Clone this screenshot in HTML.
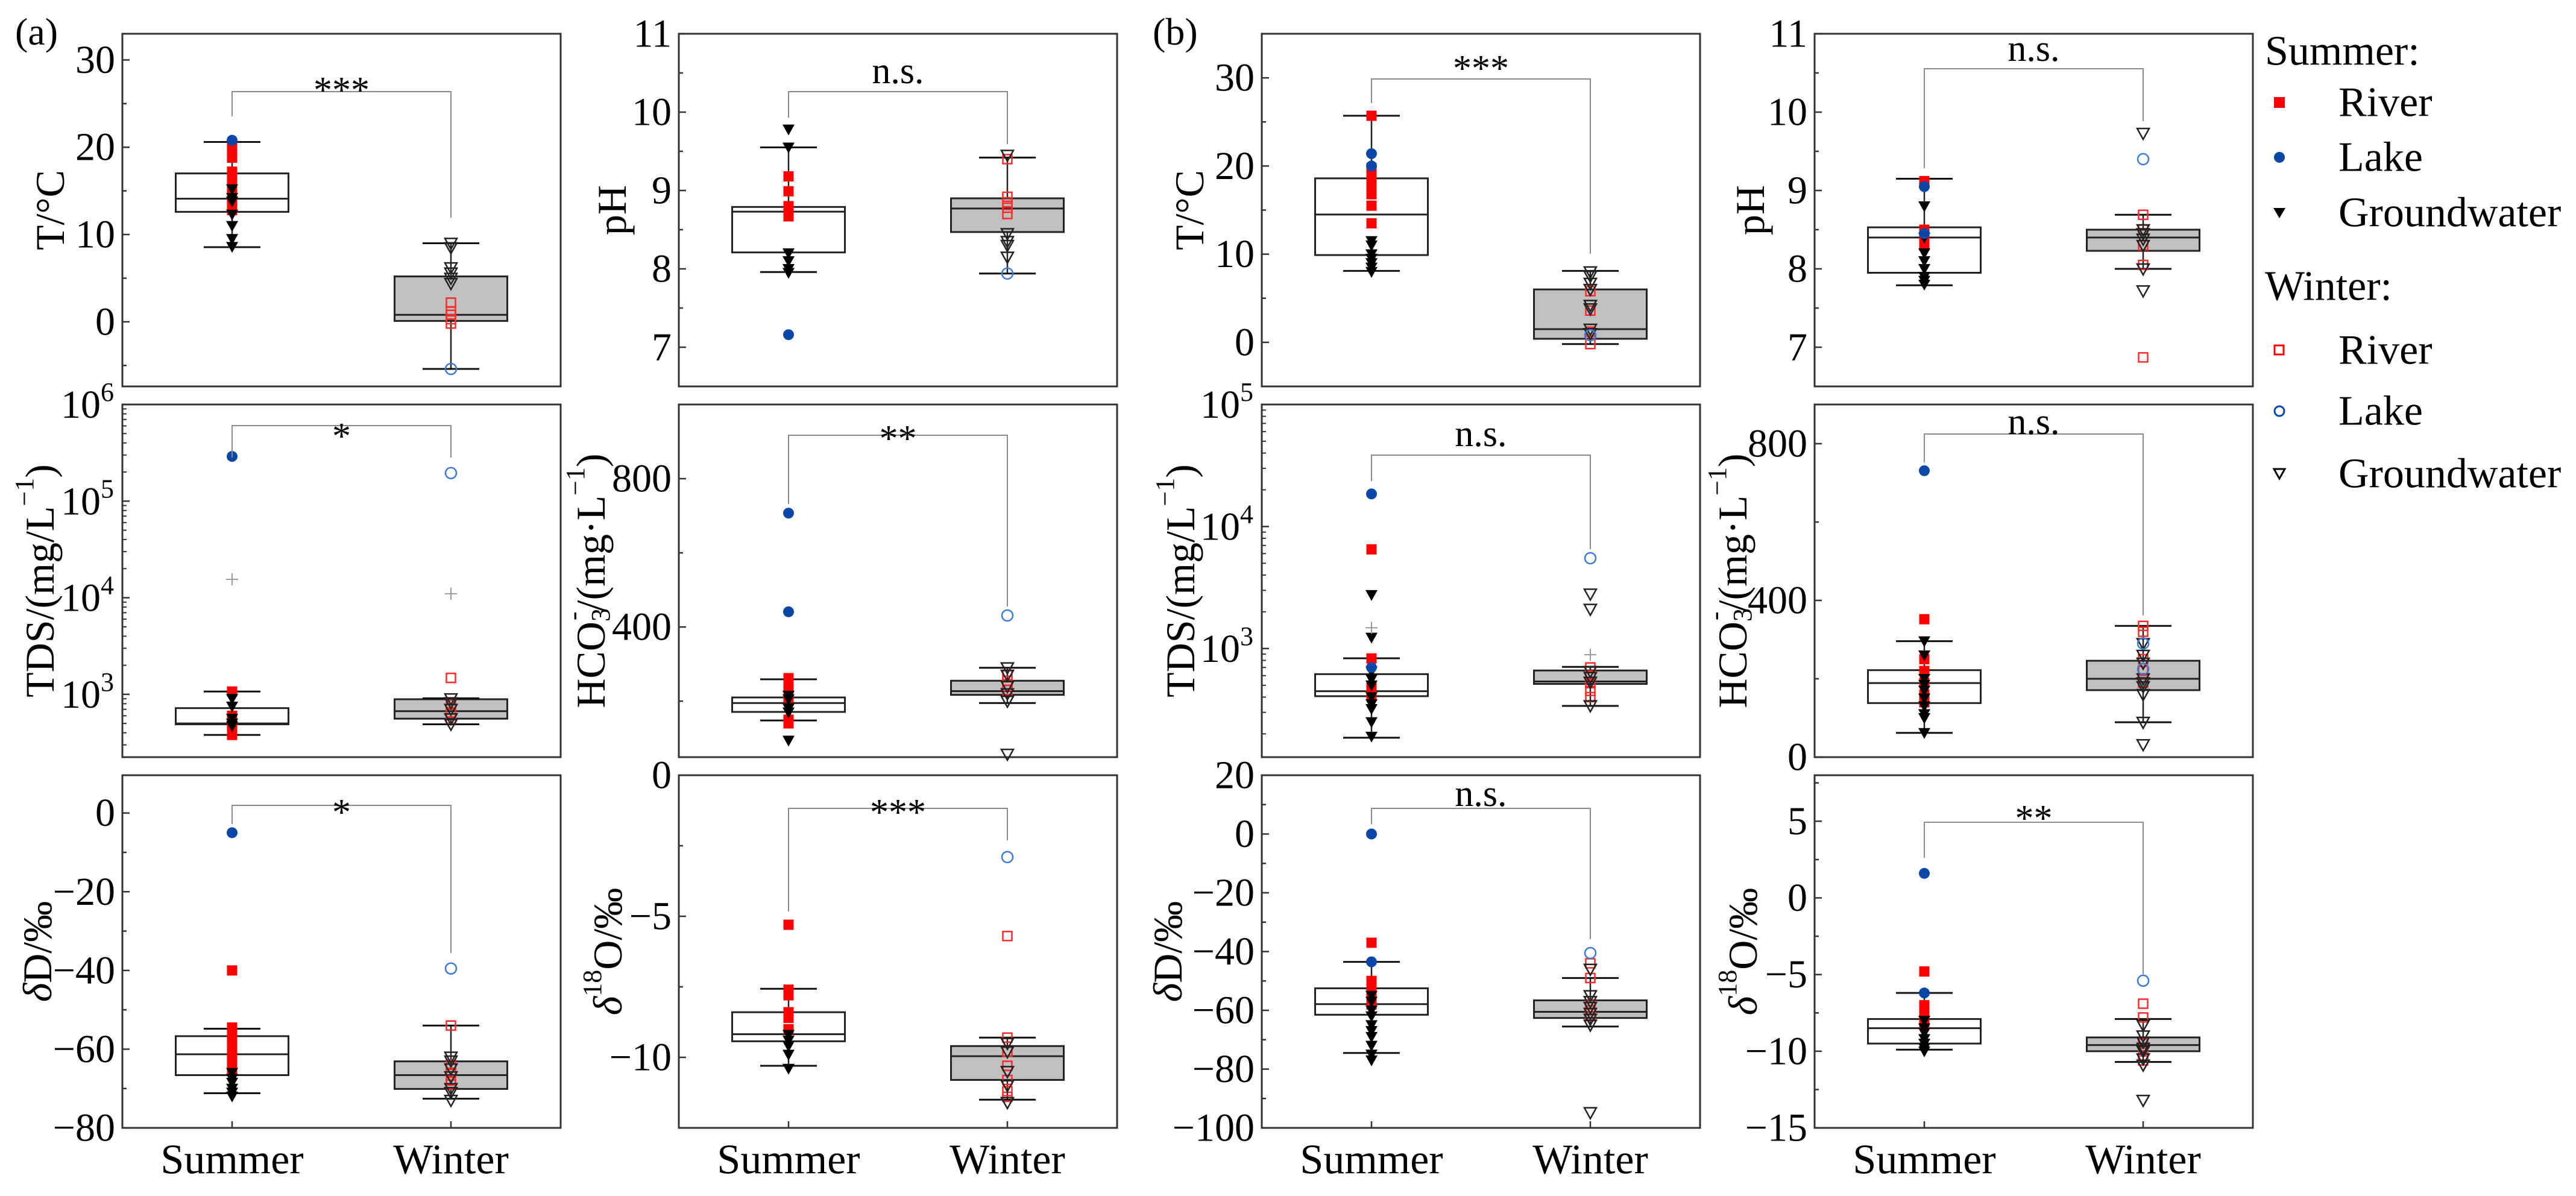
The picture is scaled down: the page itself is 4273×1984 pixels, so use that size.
<!DOCTYPE html>
<html><head><meta charset="utf-8"><style>
html,body{margin:0;padding:0;background:#fff}
svg, svg text, svg tspan{font-family:"Liberation Serif","DejaVu Serif",serif}
</style></head><body>
<svg id="fig" width="4273" height="1979" viewBox="0 0 4273 1979" xmlns="http://www.w3.org/2000/svg" font-family="Liberation Serif, DejaVu Serif, serif">
<text x="25" y="74" font-size="64" font-family="Liberation Serif, serif">(a)</text>
<text x="1912" y="74" font-size="64" font-family="Liberation Serif, serif">(b)</text>
<g font-size="70" font-family="Liberation Serif, serif">
 <text x="3757" y="85" dominant-baseline="central">Summer:</text>
 <rect x="3772" y="161" width="18" height="18" fill="#ff0000"/>
 <text x="3879" y="170" dominant-baseline="central">River</text>
 <circle cx="3781" cy="261" r="9" fill="#0a47a6"/>
 <text x="3879" y="261" dominant-baseline="central">Lake</text>
 <path d="M3771 345 L3791 345 L3781 362 Z" fill="#000"/>
 <text x="3879" y="353" dominant-baseline="central">Groundwater</text>
 <text x="3757" y="475" dominant-baseline="central">Winter:</text>
 <rect x="3773" y="573" width="15" height="15" fill="none" stroke="#ff0000" stroke-width="3"/>
 <text x="3879" y="581" dominant-baseline="central">River</text>
 <circle cx="3781" cy="682" r="8" fill="none" stroke="#0a47a6" stroke-width="3"/>
 <text x="3879" y="682" dominant-baseline="central">Lake</text>
 <path d="M3772 778 L3790 778 L3781 794 Z" fill="none" stroke="#000" stroke-width="3"/>
 <text x="3879" y="786" dominant-baseline="central">Groundwater</text>
</g>
</svg>
<script>
// ---------- data (box = [whiskerLow, Q1, median, Q3, whiskerHigh]) ----------
const aT_sBox=[8.55,12.6,14.1,17.0,20.6];
const aT_sRiver=[20.2,19.5,18.8,17.2,16.5,16,15.5,14.5,13.5,12.8];
const aT_sLake=[20.8];
const aT_sGw=[15.2,14.2,13.8,12.3,11,9.5,8.6];
const aT_wBox=[-5.4,0.1,0.8,5.2,9.0];
const aT_wRiver=[2.2,1.2,0.8,0.3,-0.2];
const aT_wLake=[-5.4];
const aT_wGw=[9.0,8.5,6.2,5.6,5.0,4.4];

const aPH_sBox=[7.96,8.21,8.73,8.79,9.55];
const aPH_sRiver=[9.18,8.99,8.8,8.67];
const aPH_sLake=[7.16];
const aPH_sGw=[9.78,9.55,8.2,8.1,8.0,7.95];
const aPH_wBox=[7.94,8.47,8.77,8.9,9.42];
const aPH_wRiver=[9.4,8.92,8.85,8.78,8.7];
const aPH_wLake=[7.94];
const aPH_wGw=[9.45,8.45,8.35,8.3,8.15];

const aTDS_sBox=[380,490,500,720,1070];
const aTDS_sRiver=[1070,600,520,450,420,380];
const aTDS_sLake=[290000];
const aTDS_sGw=[900,750,560,500,470];
const aTDS_sMean=[15500];
const aTDS_wBox=[490,560,670,890,910];
const aTDS_wRiver=[1480,780,650,560];
const aTDS_wLake=[195000];
const aTDS_wGw=[900,820,700,560,490];
const aTDS_wMean=[11000];

const aHCO_sBox=[148,171,195,210,259];
const aHCO_sRiver=[262,250,240,225,210,150,140];
const aHCO_sLake=[707,441];
const aHCO_sGw=[215,205,180,170,94];
const aHCO_wBox=[195,217,227,255,290];
const aHCO_wRiver=[270,255,240,230];
const aHCO_wLake=[431];
const aHCO_wGw=[290,270,240,220,200,57];

const aD_sBox=[-71.2,-66.6,-61.3,-56.7,-54.8];
const aD_sRiver=[-40,-54.5,-56,-58,-60,-62,-64,-65];
const aD_sLake=[-5];
const aD_sGw=[-66,-67.5,-68.5,-70,-71,-72];
const aD_wBox=[-72.6,-70.1,-66.6,-63.1,-54];
const aD_wRiver=[-54,-64,-66,-68,-69];
const aD_wLake=[-39.5];
const aD_wGw=[-62,-63,-65,-67,-70,-71,-73];

const aO_sBox=[-10.3,-9.43,-9.18,-8.4,-7.57];
const aO_sRiver=[-5.3,-7.6,-7.8,-8.4,-8.6,-9.0];
const aO_sLake=[];
const aO_sGw=[-9.2,-9.4,-9.6,-9.9,-10.4];
const aO_wBox=[-11.5,-10.8,-9.96,-9.6,-9.3];
const aO_wRiver=[-5.7,-9.3,-9.8,-10.3,-10.8,-11.2,-11.4];
const aO_wLake=[-2.9];
const aO_wGw=[-9.5,-9.8,-10.5,-11,-11.6];

const bT_sBox=[8.1,9.9,14.5,18.6,25.7];
const bT_sRiver=[25.7,19.8,19,18.2,17.5,16.8,15.5,13.5];
const bT_sLake=[21.4,20.0];
const bT_sGw=[11.5,11,10,9.5,9,8.5,8];
const bT_wBox=[-0.2,0.4,1.5,6.0,8.1];
const bT_wRiver=[5.8,3.6,1.2,-0.2];
const bT_wLake=[0.8];
const bT_wGw=[8.0,7.5,6.7,6.0,4.2,3.8,1.5,1.0];

const bPH_sBox=[7.79,7.95,8.4,8.53,9.15];
const bPH_sRiver=[9.12,8.5,8.4,8.3];
const bPH_sLake=[9.05,8.45];
const bPH_sGw=[8.8,8.4,8.2,8.1,8.0,7.9,7.85,7.8];
const bPH_wBox=[8.0,8.23,8.4,8.5,8.69];
const bPH_wRiver=[8.69,8.5,8.3,8.05,6.87];
const bPH_wLake=[9.4];
const bPH_wGw=[9.73,8.5,8.45,8.38,8.3,8.0,7.72];

const bTDS_sBox=[186,407,447,617,832];
const bTDS_sRiver=[6500,830,480,420];
const bTDS_sLake=[18500,700];
const bTDS_sGw=[2750,1230,650,560,500,400,350,320,250,190];
const bTDS_sMean=[1480];
const bTDS_wBox=[339,513,537,661,708];
const bTDS_wRiver=[700,600,520,450,400];
const bTDS_wLake=[5500];
const bTDS_wGw=[2800,2100,650,580,530,340];
const bTDS_wMean=[890];

const bHCO_sBox=[62,138,189,222,296];
const bHCO_sRiver=[352,250,220,190,160,140];
const bHCO_sLake=[731];
const bHCO_sGw=[296,260,200,185,170,150,130,110,100,62];
const bHCO_wBox=[89,171,200,246,335];
const bHCO_wRiver=[335,320,250,220,190];
const bHCO_wLake=[290,225];
const bHCO_wGw=[290,260,240,200,190,180,160,89,32];

const bD_sBox=[-74.5,-61.5,-57.9,-52.5,-43.5];
const bD_sRiver=[-37,-50,-52,-55,-58];
const bD_sLake=[0,-43.5];
const bD_sGw=[-55,-57,-60,-62,-65,-67,-69,-72,-75,-77];
const bD_wBox=[-65.5,-62.6,-60.5,-56.6,-49];
const bD_wRiver=[-44,-49,-58,-60,-62];
const bD_wLake=[-40.5];
const bD_wGw=[-46,-55,-57,-59,-61,-63,-65,-94.8];

const bO_sBox=[-9.9,-9.5,-8.5,-7.9,-6.2];
const bO_sRiver=[-4.8,-7.0,-7.3,-7.6,-8.2];
const bO_sLake=[1.6,-6.2];
const bO_sGw=[-8.0,-8.5,-8.8,-9.2,-9.5,-9.8,-10.0];
const bO_wBox=[-10.7,-10.0,-9.6,-9.1,-7.9];
const bO_wRiver=[-6.9,-7.8,-9.5,-10.3,-10.6];
const bO_wLake=[-5.4];
const bO_wGw=[-8.3,-9.0,-9.4,-9.8,-10.0,-10.5,-10.9,-13.2];

// axis ranges and ticks
const tTicks=[0,10,20,30], phTicks=[7,8,9,10,11], hcoTicksA=[400,800], hcoTicksB=[0,400,800];
const dTicksA=[-80,-60,-40,-20,0], dTicksB=[-100,-80,-60,-40,-20,0,20];
const oTicksA=[-10,-5,0], oTicksB=[-15,-10,-5,0,5];
const tdsTicksA=[3,4,5,6], tdsTicksB=[3,4,5];
const sigLabels=['***','n.s.','*','**','*','***','***','n.s.','n.s.','n.s.','n.s.','**'];

const NS='http://www.w3.org/2000/svg';
const FONT='Liberation Serif, DejaVu Serif, serif';
const svg=document.getElementById('fig');
const COLS=[203,1126,2093,3010], ROWS=[56,671,1286], W=727, H=585;
function el(tag,attrs,parent){const e=document.createElementNS(NS,tag);for(const k in attrs)e.setAttribute(k,attrs[k]);if(tag==='text')e.setAttribute('font-family',FONT);(parent||svg).appendChild(e);return e;}

const panels=[
 {id:'a-temperature',c:0,r:0,lo:-7.4,hi:33,ticks:tTicks,minor:5,label:'T',lx:83,s:[aT_sBox,aT_sRiver,aT_sLake,aT_sGw],w:[aT_wBox,aT_wRiver,aT_wLake,aT_wGw],br:[152,193,361],sy:128,sig:0},
 {id:'a-ph',c:1,r:0,lo:6.5,hi:11,ticks:phTicks,minor:0.5,label:'pH',lx:1015,s:[aPH_sBox,aPH_sRiver,aPH_sLake,aPH_sGw],w:[aPH_wBox,aPH_wRiver,aPH_wLake,aPH_wGw],br:[152,195,239],sy:118,sig:1},
 {id:'b-temperature',c:2,r:0,lo:-5,hi:35,ticks:tTicks,minor:5,label:'T',lx:1973,s:[bT_sBox,bT_sRiver,bT_sLake,bT_sGw],w:[bT_wBox,bT_wRiver,bT_wLake,bT_wGw],br:[131,171,421],sy:92,sig:6},
 {id:'b-ph',c:3,r:0,lo:6.5,hi:11,ticks:phTicks,minor:0.5,label:'pH',lx:2903,s:[bPH_sBox,bPH_sRiver,bPH_sLake,bPH_sGw],w:[bPH_wBox,bPH_wRiver,bPH_wLake,bPH_wGw],br:[114,279,201],sy:81,sig:7},
 {id:'a-tds',c:0,r:1,log:true,lo:2.35,hi:6,ticks:tdsTicksA,label:'TDS',lx:66,s:[aTDS_sBox,aTDS_sRiver,aTDS_sLake,aTDS_sGw,aTDS_sMean],w:[aTDS_wBox,aTDS_wRiver,aTDS_wLake,aTDS_wGw,aTDS_wMean],br:[706,759,759],sy:702,sig:2},
 {id:'a-hco3',c:1,r:1,lo:49,hi:1000,ticks:hcoTicksA,minor:200,label:'HCO',lx:980,s:[aHCO_sBox,aHCO_sRiver,aHCO_sLake,aHCO_sGw],w:[aHCO_wBox,aHCO_wRiver,aHCO_wLake,aHCO_wGw],br:[722,836,1006],sy:706,sig:3},
 {id:'b-tds',c:2,r:1,log:true,lo:2.11,hi:5.0,ticks:tdsTicksB,label:'TDS',lx:1958,s:[bTDS_sBox,bTDS_sRiver,bTDS_sLake,bTDS_sGw,bTDS_sMean],w:[bTDS_wBox,bTDS_wRiver,bTDS_wLake,bTDS_wGw,bTDS_wMean],br:[755,798,911],sy:720,sig:8},
 {id:'b-hco3',c:3,r:1,lo:0,hi:900,ticks:hcoTicksB,minor:200,label:'HCO',lx:2874,s:[bHCO_sBox,bHCO_sRiver,bHCO_sLake,bHCO_sGw],w:[bHCO_wBox,bHCO_wRiver,bHCO_wLake,bHCO_wGw],br:[720,767,1021],sy:700,sig:9},
 {id:'a-delta-d',c:0,r:2,lo:-80,hi:9.6,ticks:dTicksA,minor:10,label:'D',lx:62,s:[aD_sBox,aD_sRiver,aD_sLake,aD_sGw],w:[aD_wBox,aD_wRiver,aD_wLake,aD_wGw],br:[1336,1367,1581],sy:1326,sig:4},
 {id:'a-delta-18o',c:1,r:2,lo:-12.5,hi:0,ticks:oTicksA,minor:2.5,label:'O',lx:1008,s:[aO_sBox,aO_sRiver,aO_sLake,aO_sGw],w:[aO_wBox,aO_wRiver,aO_wLake,aO_wGw],br:[1341,1512,1394],sy:1326,sig:5},
 {id:'b-delta-d',c:2,r:2,lo:-100,hi:20,ticks:dTicksB,minor:10,label:'D',lx:1937,s:[bD_sBox,bD_sRiver,bD_sLake,bD_sGw],w:[bD_wBox,bD_wRiver,bD_wLake,bD_wGw],br:[1341,1367,1558],sy:1317,sig:10},
 {id:'b-delta-18o',c:3,r:2,lo:-15,hi:8,ticks:oTicksB,minor:2.5,label:'O',lx:2891,s:[bO_sBox,bO_sRiver,bO_sLake,bO_sGw],w:[bO_wBox,bO_wRiver,bO_wLake,bO_wGw],br:[1364,1423,1616],sy:1336,sig:11}
];

function addLabel(g,p,cy){
 const t=el('text',{x:p.lx,y:cy,'font-size':68,'text-anchor':'middle','dominant-baseline':'central',transform:`rotate(-90 ${p.lx} ${cy})`},g);
 
 
 const sp=(txt,o)=>{const s=el('tspan',o||{},t);s.textContent=txt;return s;};
 if(p.label==='T'){sp('T/°C');}
 else if(p.label==='pH'){sp('pH');}
 else if(p.label==='TDS'){sp('TDS/(mg/L');sp('−1',{dy:-26,'font-size':44});sp(')',{dy:26});}
 else if(p.label==='HCO'){sp('HCO');sp('3',{dy:16,'font-size':44});sp('-',{dy:-46,dx:-20,'font-size':44});sp('/(mg·L',{dy:30});sp('−1',{dy:-26,'font-size':44});sp(')',{dy:26});}
 else if(p.label==='D'){sp('δ',{'font-style':'italic'});sp('D/‰');}
 else {sp('δ',{'font-style':'italic'});sp('18',{dy:-26,'font-size':44});sp('O/‰',{dy:26});}
}

function marker(g,kind,season,x,y,name){
 let m;
 if(kind==='river'){
  m=season==='s'?el('rect',{x:x-8.5,y:y-8.5,width:17,height:17,fill:'#ff0000'},g)
   :el('rect',{x:x-7.5,y:y-7.5,width:15,height:15,fill:'none',stroke:'#ff2a2a','stroke-width':2.5},g);
 }else if(kind==='lake'){
  m=season==='s'?el('circle',{cx:x,cy:y,r:9,fill:'#0a47a6'},g)
   :el('circle',{cx:x,cy:y,r:9,fill:'none',stroke:'#3a7bd5','stroke-width':2.5},g);
 }else if(kind==='gw'){
  m=season==='s'?el('path',{d:`M${x-10} ${y-8} L${x+10} ${y-8} L${x} ${y+10} Z`,fill:'#000'},g)
   :el('path',{d:`M${x-10} ${y-8} L${x+10} ${y-8} L${x} ${y+10} Z`,fill:'none',stroke:'#222','stroke-width':2.5},g);
 }else{
  m=el('path',{d:`M${x-10} ${y} H${x+10} M${x} ${y-10} V${y+10}`,stroke:'#999','stroke-width':2,fill:'none'},g);
 }
 
 
}

panels.forEach(p=>{
 const L=COLS[p.c], T=ROWS[p.r], B=T+H;
 const y=v=>{const t=p.log?(Math.log10(v)-p.lo)/(p.hi-p.lo):(v-p.lo)/(p.hi-p.lo);return B-t*H;};
 const g=el('g',{});
 
 
 const fr=el('rect',{x:L,y:T,width:W,height:H,fill:'#fff',stroke:'#333','stroke-width':3},g);
 
 
 if(p.log){
  for(let d=Math.floor(p.lo);d<=Math.ceil(p.hi);d++){
   for(let k=2;k<=9;k++){const lv=d+Math.log10(k);if(lv>p.lo&&lv<p.hi){const yy=y(Math.pow(10,lv));el('line',{x1:L,x2:L+7,y1:yy,y2:yy,stroke:'#333','stroke-width':2},g);}}
  }
  p.ticks.forEach(e=>{const yy=y(Math.pow(10,e));
   el('line',{x1:L,x2:L+12,y1:yy,y2:yy,stroke:'#333','stroke-width':2.5},g);
   const t=el('text',{x:L-14,y:yy+22,'font-size':66,'text-anchor':'end'},g);
   
   
   const a=el('tspan',{},t);a.textContent='10';
   const b=el('tspan',{dy:-28,'font-size':44},t);b.textContent=String(e);
  });
 }else{
  const start=Math.ceil(p.lo/p.minor)*p.minor;
  for(let v=start;v<=p.hi+1e-9;v+=p.minor){
   const major=p.ticks.some(t=>Math.abs(t-v)<1e-6);
   const yy=y(v);
   el('line',{x1:L,x2:L+(major?12:7),y1:yy,y2:yy,stroke:'#333','stroke-width':2.5},g);
  }
  p.ticks.forEach(v=>{const t=el('text',{x:L-12,y:y(v),'font-size':66,'text-anchor':'end','dominant-baseline':'central'},g);
   t.textContent=(v<0?'−'+Math.abs(v):String(v));
   
   
  });
 }
 addLabel(g,p,T+H/2);
 const xs=L+182, xw=L+545;
 if(p.r===2){
  [[xs,'Summer'],[xw,'Winter']].forEach(([x,s])=>{
   el('line',{x1:x,x2:x,y1:B,y2:B-11,stroke:'#333','stroke-width':2.5},g);
   const t=el('text',{x:x,y:1924,'font-size':70,'text-anchor':'middle','dominant-baseline':'central'},g);
   t.textContent=s;
   
   
  });
 }
 [[p.s,xs,'#fff','s','summer'],[p.w,xw,'#c0c0c0','w','winter']].forEach(([arr,x,fill,se,nm])=>{
  const bx=arr[0];
  const bg=el('g',{},g);
  
  
  el('line',{x1:x,x2:x,y1:y(bx[4]),y2:y(bx[0]),stroke:'#222','stroke-width':2.5},bg);
  el('rect',{x:x-93.5,y:y(bx[3]),width:187,height:y(bx[1])-y(bx[3]),fill:fill,stroke:'#222','stroke-width':3},bg);
  el('line',{x1:x-93.5,x2:x+93.5,y1:y(bx[2]),y2:y(bx[2]),stroke:'#222','stroke-width':3},bg);
  [bx[0],bx[4]].forEach(v=>el('line',{x1:x-47,x2:x+47,y1:y(v),y2:y(v),stroke:'#111','stroke-width':3},bg));
  const pg=el('g',{},g);
  
  
  arr[1].forEach(v=>marker(pg,'river',se,x,y(v),p.id+'-'+nm+'-river-point'));
  arr[3].forEach(v=>marker(pg,'gw',se,x,y(v),p.id+'-'+nm+'-groundwater-point'));
  arr[2].forEach(v=>marker(pg,'lake',se,x,y(v),p.id+'-'+nm+'-lake-point'));
  if(arr[4])arr[4].forEach(v=>marker(pg,'mean',se,x,y(v),p.id+'-'+nm+'-mean-marker'));
 });
 const br=el('path',{d:`M${xs} ${p.br[1]} V${p.br[0]} H${xw} V${p.br[2]}`,fill:'none',stroke:'#8a8a8a','stroke-width':2},g);
 
 
 const lab=sigLabels[p.sig];
 const st=el('text',{x:(xs+xw)/2,y:p.sy+(lab.indexOf('*')>=0?22:0),'font-size':62,'text-anchor':'middle','dominant-baseline':'central'},g);
 st.textContent=lab;
 
 
});
</script>
</body></html>
